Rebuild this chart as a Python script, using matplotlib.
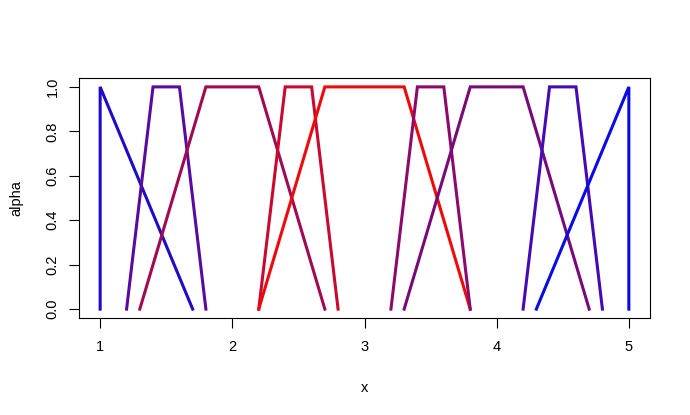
import matplotlib
matplotlib.use("Agg")
import matplotlib.pyplot as plt

plt.rcParams['font.family'] = ['Liberation Sans', 'DejaVu Sans']

# fuzzy numbers: x points of each membership function and its alpha levels
xs = [
    [1.0, 1.0, 1.7],
    [1.2, 1.4, 1.6, 1.8],
    [1.3, 1.8, 2.2, 2.7],
    [2.2, 2.4, 2.6, 2.8],
    [2.2, 2.7, 3.3, 3.8],
    [3.2, 3.4, 3.6, 3.8],
    [3.3, 3.8, 4.2, 4.7],
    [4.2, 4.4, 4.6, 4.8],
    [4.3, 5.0, 5.0],
]
alphas = [
    [0, 1, 0],
    [0, 1, 1, 0],
    [0, 1, 1, 0],
    [0, 1, 1, 0],
    [0, 1, 1, 0],
    [0, 1, 1, 0],
    [0, 1, 1, 0],
    [0, 1, 1, 0],
    [0, 1, 0],
]
colors = ['#1E0BC8', '#5A0AA0', '#A00A50', '#C80A30', '#EE0A0A',
          '#8C0A6E', '#780A78', '#460AB4', '#0A0AE6']

fig = plt.figure(figsize=(6.9, 4.15), dpi=100)
ax = fig.add_axes([79/690, 1-318/415, (650-79)/690, (318-78)/415])

for x, a, c in zip(xs, alphas, colors):
    ax.plot(x, a, color=c, linewidth=2.2, solid_joinstyle='miter')

ax.set_xlim(0.84, 5.16)
ax.set_ylim(-0.04, 1.04)
ax.set_xticks([1, 2, 3, 4, 5])
ax.set_yticks([0, 0.2, 0.4, 0.6, 0.8, 1.0])
ax.set_yticklabels(['0.0', '0.2', '0.4', '0.6', '0.8', '1.0'], rotation=90, va='center')
ax.tick_params(length=7, width=0.8, labelsize=10.5, color='black')
ax.tick_params(axis='x', pad=9)
ax.tick_params(axis='y', pad=7)
for s in ax.spines.values():
    s.set_linewidth(0.8)
ax.set_xlabel('x', fontsize=10.5, labelpad=19)
ax.set_ylabel('alpha', fontsize=10.5, labelpad=16)

plt.savefig('out.png', dpi=100)
